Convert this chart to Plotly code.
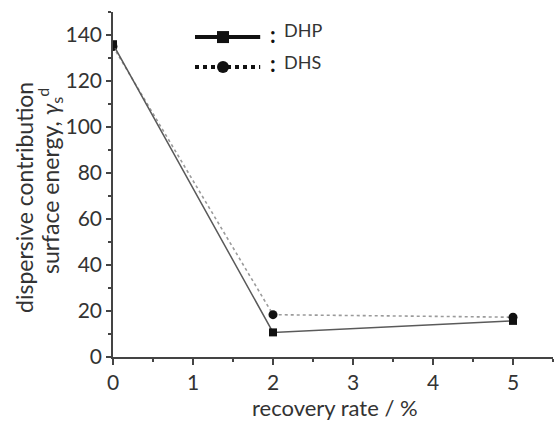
import plotly.graph_objects as go

recovery_rate = [0, 2, 5]
dhp_values = [136, 10.7, 15.7]
dhs_values = [135, 18.4, 17.3]
x_ticks = [0, 1, 2, 3, 4, 5]
y_ticks = [0, 20, 40, 60, 80, 100, 120, 140]

FONT = "Lato"
TXT = "#333333"

fig = go.Figure()
fig.add_trace(go.Scatter(
    x=recovery_rate, y=dhs_values, mode="lines+markers", name="DHS",
    line=dict(color="#9a9a9a", width=1.6, dash="dot"),
    marker=dict(symbol="circle", size=9, color="#111111"),
    showlegend=False))
fig.add_trace(go.Scatter(
    x=recovery_rate, y=dhp_values, mode="lines+markers", name="DHP",
    line=dict(color="#5a5a5a", width=1.5),
    marker=dict(symbol="square", size=8, color="#111111"),
    showlegend=False))

# custom legend (drawn in data coordinates near the top)
leg_x0, leg_x1, leg_xm = 1.025, 1.84, 1.375
leg_y = [139.1, 126.1]
shapes = [
    dict(type="line", xref="x", yref="y", x0=leg_x0, x1=leg_x1, y0=leg_y[0], y1=leg_y[0],
         line=dict(color="#111111", width=4)),
    dict(type="line", xref="x", yref="y", x0=leg_x0, x1=leg_x1, y0=leg_y[1], y1=leg_y[1],
         line=dict(color="#111111", width=4, dash="dot")),
    dict(type="rect", xref="x", yref="y", xsizemode="pixel", ysizemode="pixel",
         xanchor=leg_xm, yanchor=leg_y[0], x0=-6, x1=6, y0=-6, y1=6,
         fillcolor="#111111", line=dict(width=0)),
    dict(type="circle", xref="x", yref="y", xsizemode="pixel", ysizemode="pixel",
         xanchor=leg_xm, yanchor=leg_y[1], x0=-6, x1=6, y0=-6, y1=6,
         fillcolor="#111111", line=dict(width=0)),
]
annotations = []
for yv, name, ys in zip(leg_y, ["DHP", "DHS"], [7, 5]):
    annotations.append(dict(x=2.0, y=yv, xref="x", yref="y", text="<b>:</b>", showarrow=False, yshift=3,
                            font=dict(family=FONT, size=22, color="#111111"), xanchor="center", yanchor="middle"))
    annotations.append(dict(x=2.11, y=yv, xref="x", yref="y", text=name, showarrow=False, yshift=ys,
                            font=dict(family=FONT, size=18, color=TXT), xanchor="left", yanchor="middle"))

# y-axis title, two lines
annotations.append(dict(
    x=0, y=0.461, xref="paper", yref="paper", xanchor="center", yanchor="middle", xshift=-89,
    text="dispersive contribution", textangle=-90, showarrow=False,
    font=dict(family=FONT, size=23, color=TXT)))
annotations.append(dict(
    x=0, y=0.51, xref="paper", yref="paper", xanchor="center", yanchor="middle", xshift=-64,
    text="surface energy, <i>γ</i><sub>s</sub><sup>d</sup>", textangle=-90, showarrow=False,
    font=dict(family=FONT, size=23, color=TXT)))
# x-axis title
annotations.append(dict(
    x=0.505, y=0, xref="paper", yref="paper", xanchor="center", yanchor="middle", yshift=-50,
    text="recovery rate / %", showarrow=False, font=dict(family=FONT, size=22, color=TXT)))

fig.update_layout(
    width=554, height=421,
    margin=dict(l=113, r=1, t=12, b=64),
    paper_bgcolor="white", plot_bgcolor="white",
    shapes=shapes, annotations=annotations,
    font=dict(family=FONT, color=TXT),
    xaxis=dict(range=[0, 5.5], tickvals=x_ticks, ticktext=[str(v) for v in x_ticks],
               showgrid=False, zeroline=False, showline=True, linecolor="#444", linewidth=1.5,
               ticks="outside", ticklen=6, tickwidth=1.5, tickcolor="#444",
               minor=dict(dtick=0.5, ticks="outside", ticklen=3, tickcolor="#444", tickwidth=1.5),
               tickfont=dict(family=FONT, size=21, color=TXT), automargin=False),
    yaxis=dict(range=[0, 150], tickvals=y_ticks, ticktext=[str(v) for v in y_ticks],
               showgrid=False, zeroline=False, showline=True, linecolor="#444", linewidth=1.5,
               ticks="outside", ticklen=5, tickwidth=1.5, tickcolor="#444",
               minor=dict(dtick=10, ticks="outside", ticklen=3, tickcolor="#444", tickwidth=1.5),
               tickfont=dict(family=FONT, size=21, color=TXT), automargin=False),
)

fig.write_html("out.html")
